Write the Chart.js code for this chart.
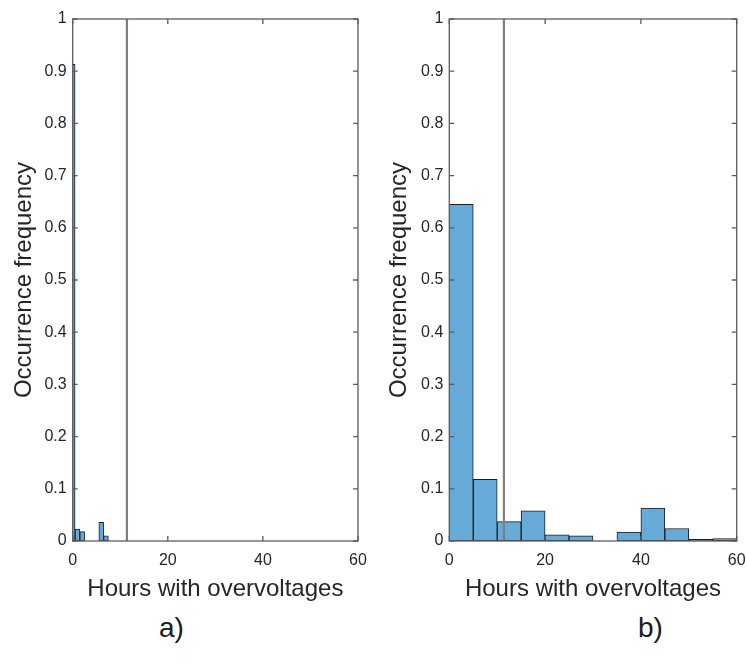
<!DOCTYPE html>
<html>
<head>
<meta charset="utf-8">
<script src="https://cdn.jsdelivr.net/npm/chart.js@4/dist/chart.umd.min.js"></script>
<style>
  html, body { margin: 0; padding: 0; background: #fff; }
  body { width: 747px; height: 666px; position: relative; overflow: hidden; font-family: "Liberation Sans", Arial, sans-serif; }
  canvas { position: absolute; top: 0; }
  #cA { left: 0; }
  #cB { left: 375px; }
  .tag { position: absolute; top: 612px; font-size: 28px; color: #1a1a1a; }
</style>
</head>
<body>
<canvas id="cA" width="375" height="610"></canvas>
<canvas id="cB" width="372" height="610"></canvas>
<div class="tag" style="left:159px">a)</div>
<div class="tag" style="left:638px">b)</div>
<script>
// Panel a): one-hour bins (centred on whole hours)
const hoursA = [0, 1, 2, 6, 7];
const freqA = [0.913, 0.023, 0.018, 0.036, 0.010];
const thresholdA = 11.4;

// Panel b): five-hour bins
const hoursB = [2.5, 7.5, 12.5, 17.5, 22.5, 27.5, 32.5, 37.5, 42.5, 47.5, 52.5, 57.5];
const freqB = [0.645, 0.118, 0.037, 0.058, 0.012, 0.010, 0, 0.017, 0.063, 0.024, 0.003, 0.0045];
const thresholdB = 11.4;

const xTicks = [0, 20, 40, 60];
const yTicks = [0, 0.1, 0.2, 0.3, 0.4, 0.5, 0.6, 0.7, 0.8, 0.9, 1];
const xTitle = 'Hours with overvoltages';
const yTitle = 'Occurrence frequency';

const AXIS_COLOR = '#5c5c5c';
const TEXT_COLOR = '#262626';
const BAR_FILL = '#66aad7';
const BAR_EDGE = '#1c1c1c';
const FONT = '"Liberation Sans", Arial, sans-serif';

// Box around the plot area with inward-pointing tick marks on all four sides
const boxTicks = {
  id: 'boxTicks',
  afterDatasetsDraw(chart) {
    const {ctx, chartArea: a, scales: {x, y}} = chart;
    const len = 5;
    ctx.save();
    ctx.strokeStyle = AXIS_COLOR;
    ctx.lineWidth = 1.3;
    ctx.beginPath();
    x.ticks.forEach(t => {
      const px = x.getPixelForValue(t.value);
      ctx.moveTo(px, a.bottom); ctx.lineTo(px, a.bottom - len);
      ctx.moveTo(px, a.top); ctx.lineTo(px, a.top + len);
    });
    y.ticks.forEach(t => {
      const py = y.getPixelForValue(t.value);
      ctx.moveTo(a.left, py); ctx.lineTo(a.left + len, py);
      ctx.moveTo(a.right, py); ctx.lineTo(a.right - len, py);
    });
    ctx.stroke();
    ctx.strokeRect(a.left, a.top, a.right - a.left, a.bottom - a.top);
    ctx.restore();
  }
};

function makePanel(canvasId, hours, freq, threshold, yAxisWidth, padRight) {
  return new Chart(document.getElementById(canvasId), {
    type: 'bar',
    data: {
      datasets: [
        {
          type: 'line',
          data: [{x: threshold, y: 0}, {x: threshold, y: 1}],
          borderColor: '#7f7f7f',
          borderWidth: 2.2,
          pointRadius: 0,
          fill: false
        },
        {
          type: 'bar',
          data: hours.map((h, i) => ({x: h, y: freq[i]})),
          backgroundColor: BAR_FILL,
          borderColor: BAR_EDGE,
          borderWidth: 1,
          borderSkipped: false,
          barPercentage: 1,
          categoryPercentage: 1,
          clip: 0
        }
      ]
    },
    options: {
      responsive: false,
      animation: false,
      devicePixelRatio: 1,
      layout: { padding: { top: 19, right: padRight, bottom: 0, left: 0 } },
      plugins: { legend: { display: false }, tooltip: { enabled: false } },
      scales: {
        x: {
          type: 'linear',
          offset: false,
          min: 0, max: 60,
          afterBuildTicks: s => { s.ticks = xTicks.map(v => ({value: v})); },
          afterFit: s => { s.height = 69; s.paddingLeft = 0; s.paddingRight = 0; },
          grid: { display: false, drawTicks: false, offset: false },
          border: { display: false },
          ticks: { color: TEXT_COLOR, padding: 10, maxRotation: 0, font: { family: FONT, size: 16 }, callback: v => String(v) },
          title: { display: true, text: xTitle, color: TEXT_COLOR, padding: { top: 0, bottom: 6 }, font: { family: FONT, size: 24 } }
        },
        y: {
          type: 'linear',
          min: 0, max: 1,
          afterBuildTicks: s => { s.ticks = yTicks.map(v => ({value: v})); },
          afterFit: s => { s.width = yAxisWidth; s.paddingTop = 0; s.paddingBottom = 0; },
          grid: { display: false, drawTicks: false },
          border: { display: false },
          ticks: { color: TEXT_COLOR, padding: 6, font: { family: FONT, size: 16 }, callback: v => String(v) },
          title: { display: true, text: yTitle, color: TEXT_COLOR, padding: { top: 10, bottom: 0 }, font: { family: FONT, size: 24 } }
        }
      }
    },
    plugins: [boxTicks]
  });
}

makePanel('cA', hoursA, freqA, thresholdA, 72.7, 17);
makePanel('cB', hoursB, freqB, thresholdB, 74.3, 10.3);
</script>
</body>
</html>
